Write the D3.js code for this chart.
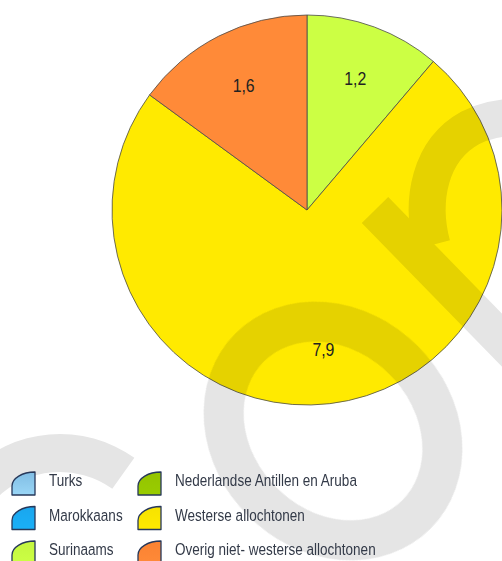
<!DOCTYPE html>
<html>
<head>
<meta charset="utf-8">
<script src="https://cdn.jsdelivr.net/npm/d3@7"></script>
<style>
  body { margin: 0; background: #fff; }
  svg { display: block; }
  .lbl { font-family: "Liberation Sans Narrow", "Arial Narrow", "Liberation Sans", Arial, sans-serif; }
</style>
</head>
<body>
<div id="chart"></div>
<script>
//chart data
var categories = ["Turks", "Marokkaans", "Surinaams",
  "Nederlandse Antillen en Aruba", "Westerse allochtonen", "Overig niet- westerse allochtonen"];
var values = [0, 0, 1.2, 0, 7.9, 1.6];
var sliceColors = ["#9ad6f6", "#1ab0f8", "#ccff44", "#99cc00", "#ffea00", "#ff8a38"];
var iconTop = ["#80bde4", "#1aa6ee", "#c4f640", "#94c400", "#f6e200", "#fa8232"];

//svg size
var svgWidth = 502;
var svgHeight = 561;

//no narrow font installed, so squeeze the text horizontally
var squeeze = 0.82;

var svg = d3.select("#chart")
  .append("svg")
  .attr("width", svgWidth)
  .attr("height", svgHeight);

//dutch number format
var nl = d3.formatLocale({decimal: ",", thousands: ".", grouping: [3], currency: ["€", ""]});
var fmt = nl.format(".1f");

var data = categories.map((c, i) => ({name: c, value: values[i], color: sliceColors[i], top: iconTop[i]}));

//pie
var radius = 195;
var pieGroup = svg.append("g")
  .attr("transform", "translate(307, 210)");

var pie = d3.pie().sort(null).value(d => d.value);
var arcs = pie(data).filter(d => d.data.value > 0);

var arc = d3.arc().innerRadius(0).outerRadius(radius);
var labelArc = d3.arc().innerRadius(140).outerRadius(140);

pieGroup.selectAll("path.slice")
  .data(arcs)
  .enter()
  .append("path")
  .attr("class", "slice")
  .attr("d", arc)
  .attr("fill", d => d.data.color)
  .attr("stroke", "#4a4a4a")
  .attr("stroke-width", 0.8)
  .attr("stroke-linejoin", "round");

//watermark (light grey letters behind the text)
var wm = svg.append("g")
  .attr("opacity", 0.105)
  .attr("fill", "#000");

// "c" at bottom left
wm.append("path")
  .attr("transform", "translate(60, 562)")
  .attr("d", d3.arc().innerRadius(90).outerRadius(128).startAngle(-2.2).endAngle(0.62)());

// "o" ring
wm.append("ellipse")
  .attr("cx", 333)
  .attr("cy", 431)
  .attr("rx", 118)
  .attr("ry", 100)
  .attr("transform", "rotate(45, 333, 431)")
  .attr("fill", "none")
  .attr("stroke", "#000")
  .attr("stroke-width", 40);

// "r" stem and shoulder
var rGroup = wm.append("g")
  .attr("fill", "none")
  .attr("stroke", "#000")
  .attr("stroke-width", 37);
rGroup.append("line")
  .attr("x1", 375).attr("y1", 210)
  .attr("x2", 580).attr("y2", 420);
rGroup.append("path")
  .attr("d", "M432,245 C420,200 430,150 470,128 C490,118 510,116 530,118");

//slice labels
pieGroup.selectAll("text.val")
  .data(arcs)
  .enter()
  .append("text")
  .attr("class", "val lbl")
  .attr("transform", d => `translate(${labelArc.centroid(d)}) scale(0.88, 1)`)
  .attr("text-anchor", "middle")
  .attr("dy", "0.36em")
  .attr("font-size", 18)
  .attr("fill", "#222")
  .text(d => fmt(d.data.value));

//legend
var defs = svg.append("defs");
data.forEach(function(d, i) {
  var g = defs.append("linearGradient")
    .attr("id", "grad" + i)
    .attr("x1", 0).attr("y1", 0).attr("x2", 0).attr("y2", 1);
  g.append("stop").attr("offset", "0%").attr("stop-color", d.top);
  g.append("stop").attr("offset", "100%").attr("stop-color", d.color);
});

var legend = svg.append("g")
  .attr("transform", "translate(12, 472)");

var items = legend.selectAll("g.item")
  .data(data)
  .enter()
  .append("g")
  .attr("class", "item")
  .attr("transform", (d, i) => `translate(${Math.floor(i / 3) * 126}, ${(i % 3) * 34.5})`);

items.append("path")
  .attr("d", "M0,23 V14 A23,14 0 0 1 23,0 V23 Z")
  .attr("fill", (d, i) => `url(#grad${i})`)
  .attr("stroke", "#27385a")
  .attr("stroke-width", 1.3)
  .attr("stroke-linejoin", "round");

items.append("text")
  .attr("class", "lbl")
  .attr("transform", `translate(37, 14) scale(${squeeze}, 1)`)
  .attr("font-size", 16.5)
  .attr("fill", "#333a48")
  .text(d => d.name);
</script>
</body>
</html>
